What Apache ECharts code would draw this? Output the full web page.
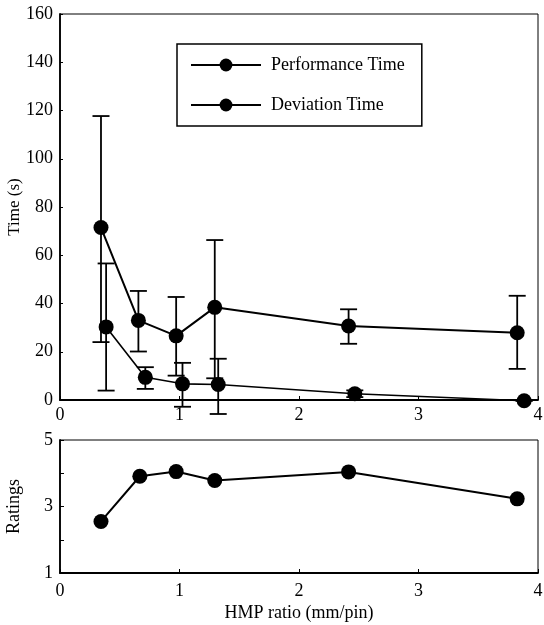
<!DOCTYPE html>
<html>
<head>
<meta charset="utf-8">
<script src="https://cdn.jsdelivr.net/npm/echarts@6/dist/echarts.min.js"></script>
<style>html,body{margin:0;padding:0;background:#fff}#c{width:544px;height:625px}</style>
</head>
<body>
<div id="c"></div>
<script>
// HMP ratio (mm/pin)
const perfX = [0.343, 0.656, 0.972, 1.295, 2.415, 3.826];
const perfY = [71.5, 33.0, 26.6, 38.4, 30.7, 27.9];
const perfLow = [24.0, 20.1, 10.1, 9.0, 23.3, 12.9];
const perfHigh = [117.7, 45.2, 42.7, 66.3, 37.6, 43.2];

const devX = [0.386, 0.714, 1.025, 1.324, 2.467, 3.884];
const devY = [30.3, 9.4, 6.7, 6.4, 2.6, -0.3];
const devLow = [3.9, 4.6, -2.8, -5.8, 1.2, -0.3];
const devHigh = [56.6, 13.6, 15.4, 17.1, 4.0, -0.3];

const ratX = [0.343, 0.668, 0.972, 1.295, 2.415, 3.826];
const ratY = [2.55, 3.91, 4.05, 3.78, 4.04, 3.23];

const FONT = 'Liberation Serif';

function pairs(xs, ys) { return xs.map((x, i) => [x, ys[i]]); }
function errData(xs, lo, hi) { return xs.map((x, i) => [x, lo[i], hi[i]]); }

function errRender(params, api) {
  const x = api.value(0);
  const lo = api.coord([x, api.value(1)]);
  const hi = api.coord([x, api.value(2)]);
  const w = 8.5;
  const style = { stroke: '#000', lineWidth: 1.8 };
  return {
    type: 'group',
    children: [
      { type: 'line', shape: { x1: hi[0], y1: hi[1], x2: lo[0], y2: lo[1] }, style },
      { type: 'line', shape: { x1: hi[0] - w, y1: hi[1], x2: hi[0] + w, y2: hi[1] }, style },
      { type: 'line', shape: { x1: lo[0] - w, y1: lo[1], x2: lo[0] + w, y2: lo[1] }, style }
    ]
  };
}

const axisLabel = { color: '#000', fontFamily: FONT, fontSize: 18 };
const chart = echarts.init(document.getElementById('c'));
chart.setOption({
  animation: false,
  backgroundColor: '#fff',
  grid: [
    { left: 60, top: 14, width: 478, height: 386, show: true, borderColor: '#000', borderWidth: 1,
      containLabel: false, outerBoundsMode: 'none' },
    { left: 60, top: 440, width: 478, height: 133, show: true, borderColor: '#000', borderWidth: 1,
      containLabel: false, outerBoundsMode: 'none' }
  ],
  xAxis: [
    { gridIndex: 0, type: 'value', min: 0, max: 4, interval: 1,
      axisLine: { onZero: false, lineStyle: { color: '#000', width: 1.8 } },
      axisTick: { inside: true, length: 4, lineStyle: { color: '#000' } },
      axisLabel: Object.assign({ margin: 6 }, axisLabel), splitLine: { show: false } },
    { gridIndex: 1, type: 'value', min: 0, max: 4, interval: 1,
      name: 'HMP ratio (mm/pin)', nameLocation: 'middle', nameGap: 31, nameMoveOverlap: false,
      nameTextStyle: { color: '#000', fontFamily: FONT, fontSize: 18 },
      axisLine: { onZero: false, lineStyle: { color: '#000', width: 1.8 } },
      axisTick: { inside: true, length: 4, lineStyle: { color: '#000' } },
      axisLabel: Object.assign({ margin: 9 }, axisLabel), splitLine: { show: false } }
  ],
  yAxis: [
    { gridIndex: 0, type: 'value', min: 0, max: 160, interval: 20,
      name: 'Time (s)', nameLocation: 'middle', nameGap: 37, nameMoveOverlap: false,
      nameTextStyle: { color: '#000', fontFamily: FONT, fontSize: 17 },
      axisLine: { show: true, onZero: false, lineStyle: { color: '#000', width: 1.8 } },
      axisTick: { show: true, inside: true, length: 3, lineStyle: { color: '#000' } },
      axisLabel: Object.assign({ margin: 7 }, axisLabel), splitLine: { show: false } },
    { gridIndex: 1, type: 'value', min: 1, max: 5, interval: 1,
      name: 'Ratings', nameLocation: 'middle', nameGap: 37, nameMoveOverlap: false,
      nameTextStyle: { color: '#000', fontFamily: FONT, fontSize: 18 },
      axisLine: { show: true, onZero: false, lineStyle: { color: '#000', width: 1.8 } },
      axisTick: { show: true, inside: true, length: 4, lineStyle: { color: '#000' } },
      axisLabel: Object.assign({ margin: 7, formatter: v => (v % 2 === 1 ? String(v) : '') }, axisLabel),
      splitLine: { show: false } }
  ],
  legend: {
    left: 177, top: 44, orient: 'vertical',
    data: ['Performance Time', 'Deviation Time'],
    backgroundColor: '#fff', borderColor: '#000', borderWidth: 1.5,
    padding: [12, 17, 12, 13], itemGap: 22, itemWidth: 70, itemHeight: 16,
    textStyle: { color: '#000', fontFamily: FONT, fontSize: 18, padding: [0, 0, 0, 5] }
  },
  series: [
    { type: 'custom', xAxisIndex: 0, yAxisIndex: 0, renderItem: errRender, clip: false,
      data: errData(perfX, perfLow, perfHigh), z: 1, silent: true },
    { type: 'custom', xAxisIndex: 0, yAxisIndex: 0, renderItem: errRender, clip: false,
      data: errData(devX, devLow, devHigh), z: 1, silent: true },
    { name: 'Performance Time', type: 'line', xAxisIndex: 0, yAxisIndex: 0,
      data: pairs(perfX, perfY), symbol: 'circle', symbolSize: 15,
      itemStyle: { color: '#000' }, lineStyle: { color: '#000', width: 2 }, z: 3, clip: false },
    { name: 'Deviation Time', type: 'line', xAxisIndex: 0, yAxisIndex: 0,
      data: pairs(devX, devY), symbol: 'circle', symbolSize: 15,
      itemStyle: { color: '#000' }, lineStyle: { color: '#000', width: 1.6 }, z: 3, clip: false },
    { name: 'Ratings', type: 'line', xAxisIndex: 1, yAxisIndex: 1,
      data: pairs(ratX, ratY), symbol: 'circle', symbolSize: 15,
      itemStyle: { color: '#000' }, lineStyle: { color: '#000', width: 2 }, z: 3 }
  ]
});
</script>
</body>
</html>
